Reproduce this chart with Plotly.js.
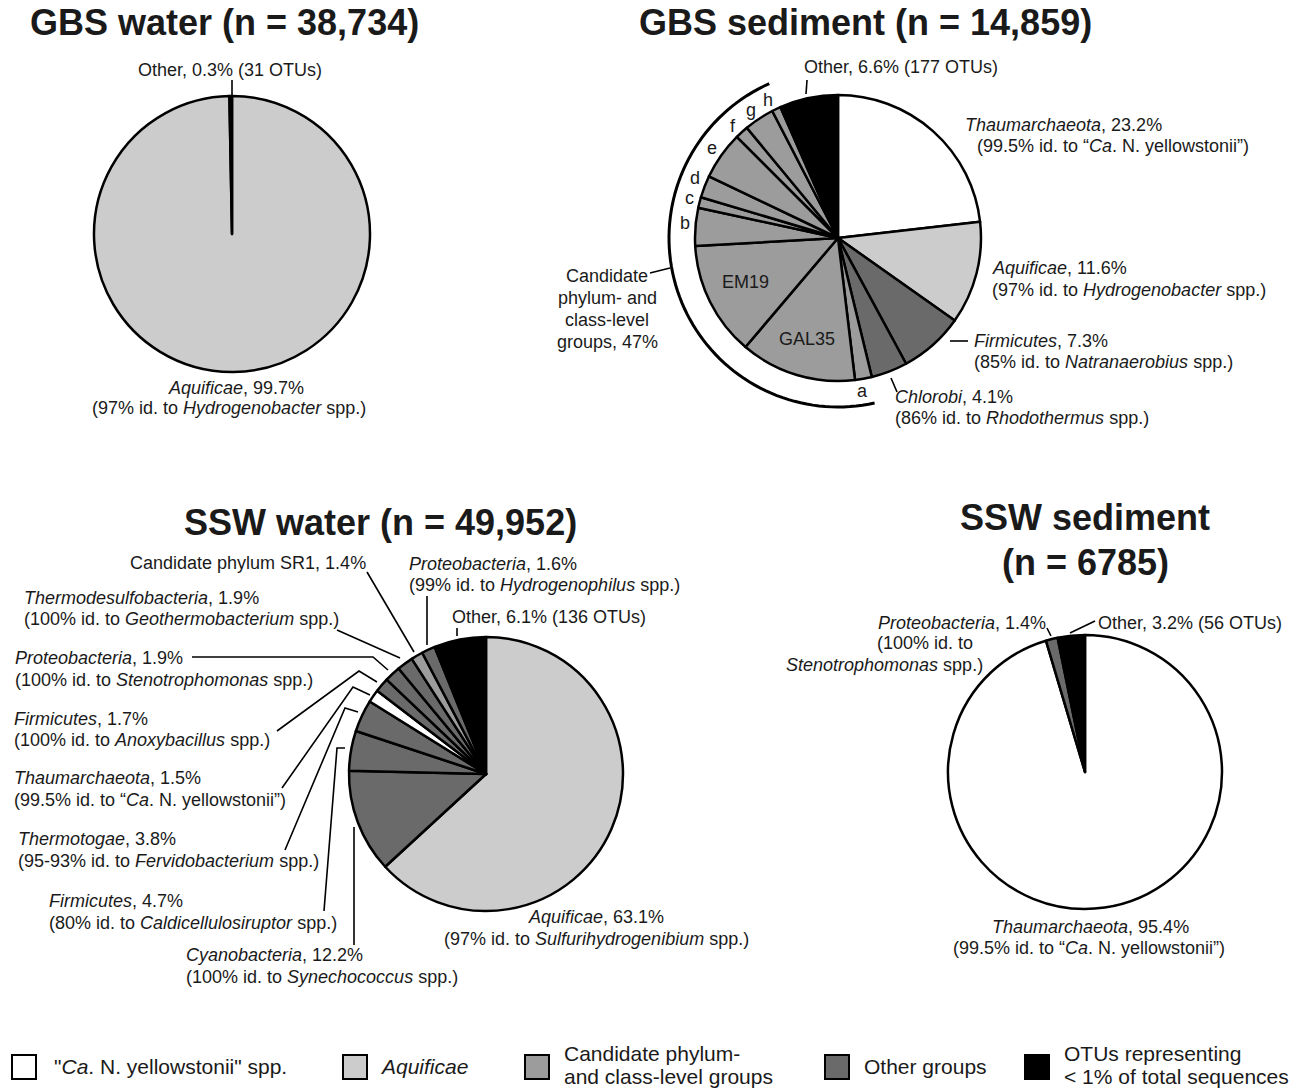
<!DOCTYPE html>
<html><head><meta charset="utf-8">
<script src="https://cdn.plot.ly/plotly-3.0.1.min.js"></script>
<style>html,body{margin:0;padding:0;background:#fff}</style>
</head><body><div id="chart" style="width:1299px;height:1090px"></div>
<script>
const W = 1299, H = 1090;

// Fill colours by group
const C_THAUM = '#ffffff', C_AQUI = '#cccccc', C_CAND = '#9c9c9c', C_OG = '#6a6a6a', C_LOW = '#000000';

// ---- GBS water ----
const gbsWaterLabels = ['Aquificae', 'Other'];
const gbsWaterValues = [99.7, 0.3];
const gbsWaterColors = [C_AQUI, C_LOW];

// ---- GBS sediment ----
const gbsSedLabels = ['Thaumarchaeota', 'Aquificae', 'Firmicutes', 'Chlorobi', 'a', 'GAL35', 'EM19', 'b', 'c', 'd', 'e', 'f', 'g', 'h', 'Other'];
const gbsSedValues = [23.2, 11.6, 7.3, 4.1, 1.9, 13.1, 12.9, 4.3, 1.2, 2.5, 5.4, 1.5, 3.4, 1.0, 6.6];
const gbsSedColors = [C_THAUM, C_AQUI, C_OG, C_OG, C_CAND, C_CAND, C_CAND, C_CAND, C_CAND, C_CAND, C_CAND, C_CAND, C_CAND, C_CAND, C_LOW];

// ---- SSW water ----
const sswWaterLabels = ['Aquificae', 'Cyanobacteria', 'Firmicutes (Caldicellulosiruptor)', 'Thermotogae', 'Thaumarchaeota',
  'Firmicutes (Anoxybacillus)', 'Proteobacteria (Stenotrophomonas)', 'Thermodesulfobacteria', 'Candidate phylum SR1',
  'Proteobacteria (Hydrogenophilus)', 'Other'];
const sswWaterValues = [63.1, 12.2, 4.7, 3.8, 1.5, 1.7, 1.9, 1.9, 1.4, 1.6, 6.1];
const sswWaterColors = [C_AQUI, C_OG, C_OG, C_OG, C_THAUM, C_OG, C_OG, C_OG, C_CAND, C_OG, C_LOW];

// ---- SSW sediment ----
const sswSedLabels = ['Thaumarchaeota', 'Proteobacteria', 'Other'];
const sswSedValues = [95.4, 1.4, 3.2];
const sswSedColors = [C_THAUM, C_OG, C_LOW];

// Legend
const legendLabels = [['"<i>Ca</i>. N. yellowstonii" spp.'], ['<i>Aquificae</i>'], ['Candidate phylum-', 'and class-level groups'], ['Other groups'], ['OTUs representing', '&lt; 1% of total sequences']];
const legendColors = [C_THAUM, C_AQUI, C_CAND, C_OG, C_LOW];

// ---------- geometry (pixels) ----------
const X = x => x / W, Y = y => 1 - y / H;
function domain(cx, cy, r) { return {x: [X(cx - r), X(cx + r)], y: [Y(cy + r), Y(cy - r)]}; }

function pie(labels, values, colors, cx, cy, r) {
  return {
    type: 'pie', labels: labels, values: values, sort: false, direction: 'clockwise', rotation: 0,
    marker: {colors: colors, line: {color: '#000', width: 2.5}},
    textinfo: 'none', hoverinfo: 'skip', showlegend: false,
    domain: domain(cx, cy, r)
  };
}

const data = [
  pie(gbsWaterLabels, gbsWaterValues, gbsWaterColors, 232, 234, 138),
  pie(gbsSedLabels, gbsSedValues, gbsSedColors, 838, 238, 143),
  pie(sswWaterLabels, sswWaterValues, sswWaterColors, 486, 774, 137),
  pie(sswSedLabels, sswSedValues, sswSedColors, 1085, 772, 137)
];

const FONT = 'Liberation Sans, Arial, Helvetica, sans-serif';
const TXT = '#1a1a1a';
const annotations = [];
function ann(x, y, text, anchor, size, extra) {
  annotations.push(Object.assign({
    xref: 'paper', yref: 'paper', x: X(x), y: Y(y), text: text, showarrow: false,
    xanchor: anchor || 'left', yanchor: 'middle', align: anchor || 'left',
    font: {family: FONT, size: size || 18, color: TXT}
  }, extra || {}));
}
const shapes = [];
function line(pts, w) {
  let d = 'M' + pts.map(p => X(p[0]).toFixed(5) + ',' + Y(p[1]).toFixed(5)).join(' L');
  shapes.push({type: 'path', xref: 'paper', yref: 'paper', path: d, line: {color: '#000', width: w || 1.6}});
}

// Titles
const TS = 36;
ann(224, 22, '<b>GBS water (n = 38,734)</b>', 'center', TS);
ann(865, 22, '<b>GBS sediment (n = 14,859)</b>', 'center', TS);
ann(380, 522, '<b>SSW water (n = 49,952)</b>', 'center', TS);
ann(1085, 517, '<b>SSW sediment</b>', 'center', TS);
ann(1085, 563, '<b>(n = 6785)</b>', 'center', TS);

// GBS water labels
ann(230, 70, 'Other, 0.3% (31 OTUs)', 'center');
line([[232, 80], [232, 96]]);
ann(236, 388, '<i>Aquificae</i>, 99.7%', 'center');
ann(229, 408, '(97% id. to <i>Hydrogenobacter</i> spp.)', 'center');

// GBS sediment labels
ann(802, 67, 'Other, 6.6% (177 OTUs)', 'left');
line([[807, 80], [806, 94]]);
ann(963, 125, '<i>Thaumarchaeota</i>, 23.2%', 'left');
ann(975, 146, '(99.5% id. to “<i>Ca</i>. N. yellowstonii”)', 'left');
ann(990, 268, '<i>Aquificae</i>, 11.6%', 'left');
ann(990, 290, '(97% id. to <i>Hydrogenobacter</i> spp.)', 'left');
ann(972, 341, '<i>Firmicutes</i>, 7.3%', 'left');
ann(972, 362, '(85% id. to <i>Natranaerobius</i> spp.)', 'left');
line([[950, 341], [968, 341]]);
ann(893, 397, '<i>Chlorobi</i>, 4.1%', 'left');
ann(893, 418, '(86% id. to <i>Rhodothermus</i> spp.)', 'left');
line([[891, 378], [897, 392]]);
ann(607, 276, 'Candidate', 'center');
ann(607, 298, 'phylum- and', 'center');
ann(607, 320, 'class-level', 'center');
ann(607, 342, 'groups, 47%', 'center');
line([[650, 273], [670, 268]]);
ann(745, 282, 'EM19', 'center');
ann(807, 339, 'GAL35', 'center');
[['a', 862, 391], ['b', 685, 223], ['c', 689, 198], ['d', 695, 178], ['e', 712, 148], ['f', 733, 126], ['g', 751, 110], ['h', 768, 100]]
  .forEach(t => ann(t[1], t[2], t[0], 'center'));
// bracket arc around candidate groups
(function () {
  const cx = 838, cy = 238, r = 169, a0 = 167.5, a1 = 336, pts = [];
  for (let i = 0; i <= 80; i++) {
    const a = (a0 + (a1 - a0) * i / 80) * Math.PI / 180;
    pts.push([cx + r * Math.sin(a), cy - r * Math.cos(a)]);
  }
  line(pts, 3);
})();

// SSW water labels
ann(128, 563, 'Candidate phylum SR1, 1.4%', 'left');
line([[367, 572], [414, 652]]);
ann(407, 564, '<i>Proteobacteria</i>, 1.6%', 'left');
ann(407, 585, '(99% id. to <i>Hydrogenophilus</i> spp.)', 'left');
line([[427, 596], [427, 645]]);
ann(450, 617, 'Other, 6.1% (136 OTUs)', 'left');
line([[457, 628], [457, 636]]);
ann(22, 598, '<i>Thermodesulfobacteria</i>, 1.9%', 'left');
ann(22, 619, '(100% id. to <i>Geothermobacterium</i> spp.)', 'left');
line([[337, 630], [400, 658]]);
ann(13, 658, '<i>Proteobacteria</i>, 1.9%', 'left');
ann(13, 680, '(100% id. to <i>Stenotrophomonas</i> spp.)', 'left');
line([[192, 657], [373, 657], [388, 670]]);
ann(12, 719, '<i>Firmicutes</i>, 1.7%', 'left');
ann(12, 740, '(100% id. to <i>Anoxybacillus</i> spp.)', 'left');
line([[277, 731], [359, 671], [377, 682]]);
ann(12, 778, '<i>Thaumarchaeota</i>, 1.5%', 'left');
ann(12, 800, '(99.5% id. to “<i>Ca</i>. N. yellowstonii”)', 'left');
line([[282, 788], [353, 687], [370, 695]]);
ann(16, 839, '<i>Thermotogae</i>, 3.8%', 'left');
ann(16, 861, '(95-93% id. to <i>Fervidobacterium</i> spp.)', 'left');
line([[285, 850], [345, 708], [358, 712]]);
ann(47, 901, '<i>Firmicutes</i>, 4.7%', 'left');
ann(47, 923, '(80% id. to <i>Caldicellulosiruptor</i> spp.)', 'left');
line([[324, 911], [337, 748], [345, 748]]);
ann(184, 955, '<i>Cyanobacteria</i>, 12.2%', 'left');
ann(184, 977, '(100% id. to <i>Synechococcus</i> spp.)', 'left');
line([[354, 827], [354, 945]]);
ann(596, 917, '<i>Aquificae</i>, 63.1%', 'center');
ann(596, 939, '(97% id. to <i>Sulfurihydrogenibium</i> spp.)', 'center');

// SSW sediment labels
ann(1048, 623, '<i>Proteobacteria</i>, 1.4%', 'right');
ann(875, 643, '(100% id. to', 'left');
ann(784, 665, '<i>Stenotrophomonas</i> spp.)', 'left');
line([[1047, 628], [1051, 636]]);
ann(1096, 623, 'Other, 3.2% (56 OTUs)', 'left');
line([[1070, 633], [1095, 621]]);
ann(1090, 927, '<i>Thaumarchaeota</i>, 95.4%', 'center');
ann(1089, 948, '(99.5% id. to “<i>Ca</i>. N. yellowstonii”)', 'center');

// Legend
const legX = [12, 343, 525, 825, 1025];
const legTextX = [52, 378, 562, 862, 1062];
legendLabels.forEach((lines, i) => {
  shapes.push({type: 'rect', xref: 'paper', yref: 'paper', x0: X(legX[i]), x1: X(legX[i] + 24), y0: Y(1079), y1: Y(1055),
    fillcolor: legendColors[i], line: {color: '#000', width: 2}});
  if (lines.length === 1) ann(legTextX[i], 1066, lines[0], 'left', 21);
  else { ann(legTextX[i], 1053, lines[0], 'left', 21); ann(legTextX[i], 1076, lines[1], 'left', 21); }
});

const layout = {
  width: W, height: H, margin: {l: 0, r: 0, t: 0, b: 0},
  paper_bgcolor: '#fff', plot_bgcolor: '#fff', showlegend: false,
  annotations: annotations, shapes: shapes, font: {family: FONT}
};
Plotly.newPlot('chart', data, layout, {staticPlot: true, displayModeBar: false});
</script></body></html>
